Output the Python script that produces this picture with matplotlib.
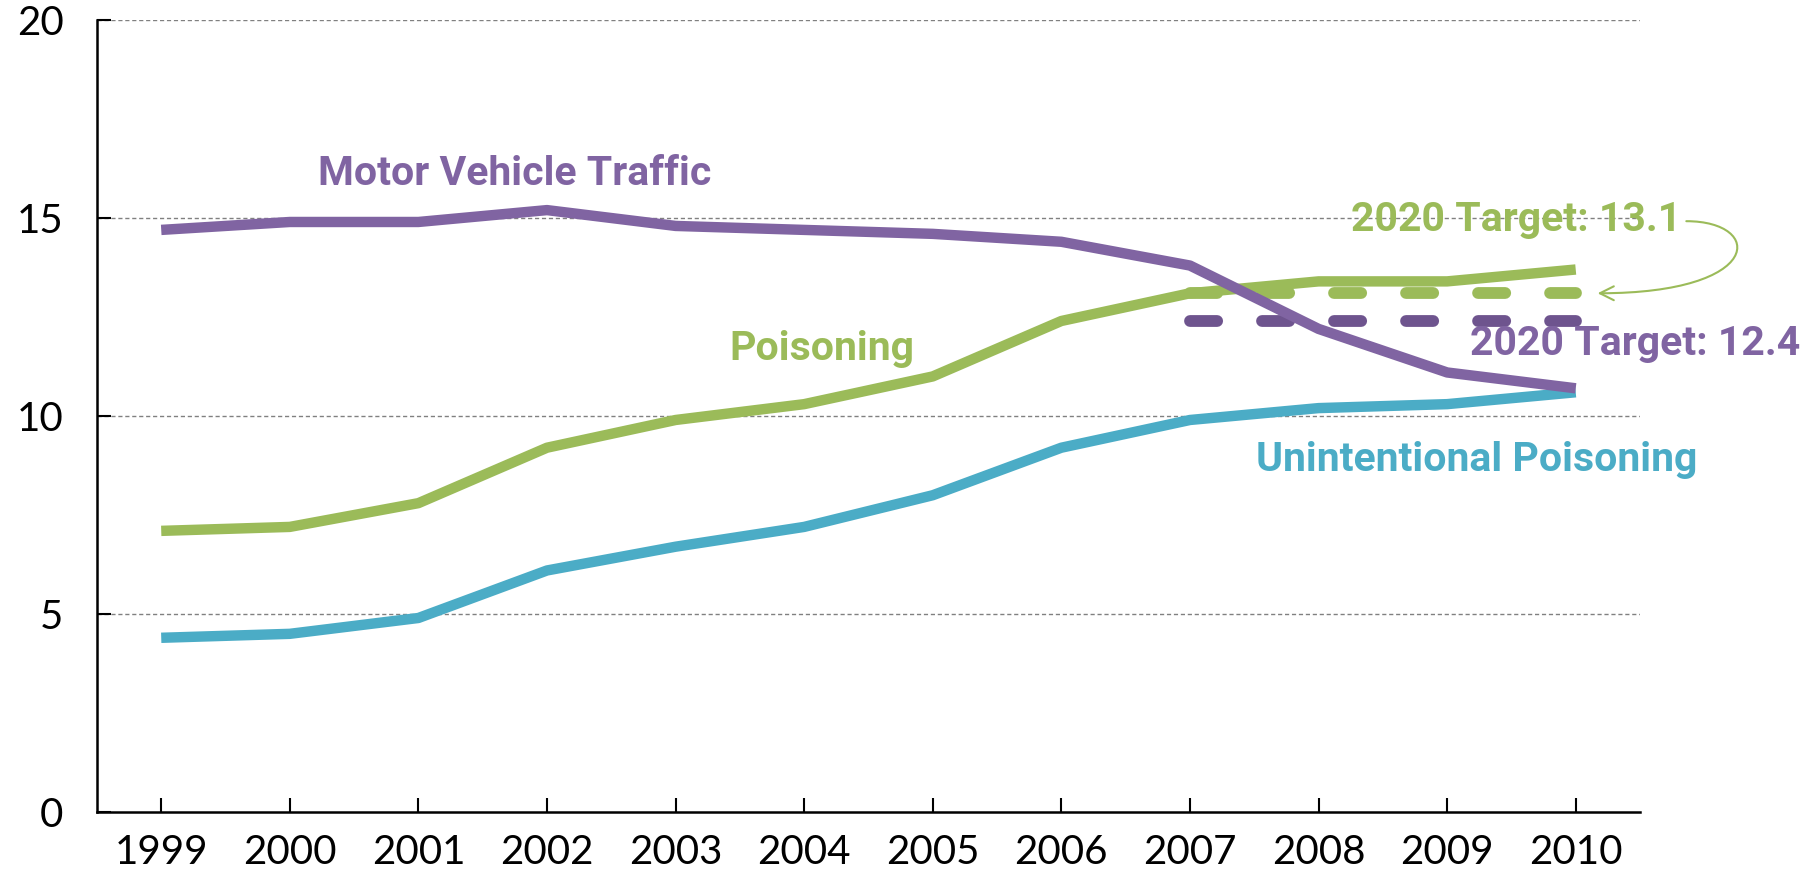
import numpy as np
import matplotlib.pyplot as plt
from matplotlib.patches import FancyArrowPatch
from matplotlib.path import Path

years = ['1999', '2000', '2001', '2002', '2003', '2004', '2005', '2006', '2007', '2008', '2009', '2010']
motor_vehicle = [14.7, 14.9, 14.9, 15.2, 14.8, 14.7, 14.6, 14.4, 13.8, 12.2, 11.1, 10.7]
poisoning = [7.1, 7.2, 7.8, 9.2, 9.9, 10.3, 11.0, 12.4, 13.1, 13.4, 13.4, 13.7]
unintentional = [4.4, 4.5, 4.9, 6.1, 6.7, 7.2, 8.0, 9.2, 9.9, 10.2, 10.3, 10.6]
target_poisoning = 13.1
target_motor = 12.4
target_start = '2007'
yticks = [0, 5, 10, 15, 20]

purple = '#8064a2'
purple_dark = '#6e548e'
green = '#9bbb59'
blue = '#4bacc6'

fig = plt.figure(figsize=(18.05, 8.74), dpi=100)
ax = fig.add_axes([0.0537, 0.0709, 0.8549, 0.9062])

x = np.arange(len(years))
i0 = years.index(target_start)

ax.plot(x, unintentional, color=blue, lw=7.5, solid_capstyle='butt', zorder=3)
ax.plot(x, poisoning, color=green, lw=7.5, solid_capstyle='butt', zorder=3)
ax.plot(x[i0:], [target_poisoning] * (len(x) - i0), color=green, lw=8.5,
        dashes=(2.3, 3.8), dash_capstyle='round', zorder=2)
ax.plot(x[i0:], [target_motor] * (len(x) - i0), color=purple_dark, lw=8.5,
        dashes=(2.3, 3.8), dash_capstyle='round', zorder=2)
ax.plot(x, motor_vehicle, color=purple, lw=7.5, solid_capstyle='butt', zorder=4)

ax.set_xlim(-0.5, len(years) - 0.5)
ax.set_ylim(0, 20)
ax.set_xticks(x)
ax.set_xticklabels(years)
ax.set_yticks(yticks)
ax.tick_params(axis='both', direction='in', length=10, width=1.5, labelsize=29, pad=16)
ax.tick_params(axis='y', pad=24)
for lab in ax.get_xticklabels() + ax.get_yticklabels():
    lab.set_family('Lato')

for y in yticks[1:]:
    ax.axhline(y, color='#808080', lw=1, ls=(0, (3, 2)), zorder=1)

ax.spines['top'].set_visible(False)
ax.spines['right'].set_visible(False)
ax.spines['left'].set_linewidth(1.8)
ax.spines['bottom'].set_linewidth(1.8)

lbl = dict(fontsize=29.5, fontweight='bold', family='Roboto', va='center', ha='center')
ax.text(2.75, 16.1, 'Motor Vehicle Traffic', color=purple, **lbl)
ax.text(5.14, 11.7, 'Poisoning', color=green, **lbl)
ax.text(10.23, 8.9, 'Unintentional Poisoning', color=blue, **lbl)
ax.text(10.54, 14.94, '2020 Target: 13.1', color=green, **lbl)
ax.text(11.46, 11.83, '2020 Target: 12.4', color=purple, **lbl)

# curved pointer from the 13.1 label to the end of the green target line
verts = [(11.86, 14.92), (12.47, 14.92), (12.47, target_poisoning), (11.17, target_poisoning)]
codes = [Path.MOVETO, Path.CURVE4, Path.CURVE4, Path.CURVE4]
arrow = FancyArrowPatch(path=Path(verts, codes), arrowstyle='->', color=green, lw=1.5,
                        mutation_scale=25, clip_on=False, zorder=5)
ax.add_patch(arrow)

fig.savefig('out.png', dpi=100)
